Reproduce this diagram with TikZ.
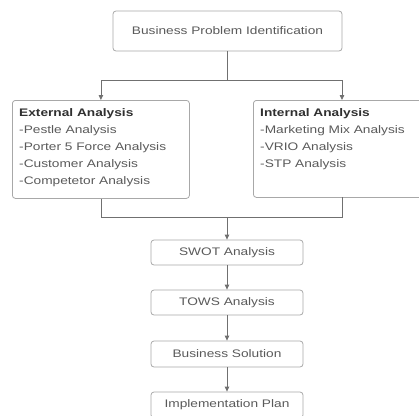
\documentclass[tikz,border=0pt]{standalone}
\usepackage{fontspec}
\setmainfont[FakeStretch=1.25]{Liberation Sans}
\usetikzlibrary{arrows.meta}

\definecolor{boxline}{HTML}{A8A8A8}
\definecolor{wireline}{HTML}{707070}
\definecolor{plaintext}{HTML}{5A5A5A}
\definecolor{headtext}{HTML}{303030}

\tikzset{
    stage/.style={draw=boxline, rounded corners=3bp, line width=0.8bp, fill=white,
        text=plaintext, font=\fontsize{11}{13}\selectfont, inner sep=0pt},
    listbox/.style={stage, anchor=north west},
    listtext/.style={anchor=north west, align=left, inner sep=0pt, text=plaintext,
        font=\fontsize{11}{17.2}\selectfont},
    wire/.style={draw=wireline, line width=0.8bp},
    flow/.style={wire, -{Triangle[length=5bp, width=4.5bp]}},
}

\begin{document}
\begin{tikzpicture}[x=1bp, y=-1bp]
        \useasboundingbox (0,0) rectangle (419,416);
        \clip (0,0) rectangle (419,416);

        \node[stage, minimum width=229bp, minimum height=40bp] (problem) at (227.5,31) {Business Problem Identification};

        % the two analysis boxes
        \node[listbox, minimum width=177bp, minimum height=98bp] (external) at (12,100) {};
        \node[listtext] (externaltxt) at (19,108) {\textcolor{headtext}{\bfseries External Analysis}\\-Pestle Analysis\\-Porter 5 Force Analysis\\-Customer Analysis\\-Competetor Analysis};
        \node[listbox, minimum width=170bp, minimum height=97bp] (internal) at (253,100) {};
        \node[listtext] (internaltxt) at (260,108) {\textcolor{headtext}{\bfseries Internal Analysis}\\-Marketing Mix Analysis\\-VRIO Analysis\\-STP Analysis};

        % the chain below
        \node[stage, minimum width=152bp, minimum height=25bp] (swot) at (227,252.5) {SWOT Analysis};
        \node[stage, minimum width=152bp, minimum height=25bp] (tows) at (227,302.5) {TOWS Analysis};
        \node[stage, minimum width=152bp, minimum height=26bp] (solution) at (227,354) {Business Solution};
        \node[stage, minimum width=152bp, minimum height=26bp] (plan) at (227,405) {Implementation Plan};

        \coordinate (split) at (227.5,80);
        \coordinate (intin) at (342,100);
        \coordinate (intout) at (342,197);
        \coordinate (merge) at (227,217);

        \draw[wire] (problem.south) -- (split);
        \draw[flow] (split) -| (external.north);
        \draw[flow] (split) -| (intin);
        \draw[wire] (external.south) |- (merge);
        \draw[wire] (intout) |- (merge);
        \draw[flow] (merge) -- (swot.north);
        \draw[flow] (swot) -- (tows);
        \draw[flow] (tows) -- (solution);
        \draw[flow] (solution) -- (plan);
    \end{tikzpicture}
\end{document}
